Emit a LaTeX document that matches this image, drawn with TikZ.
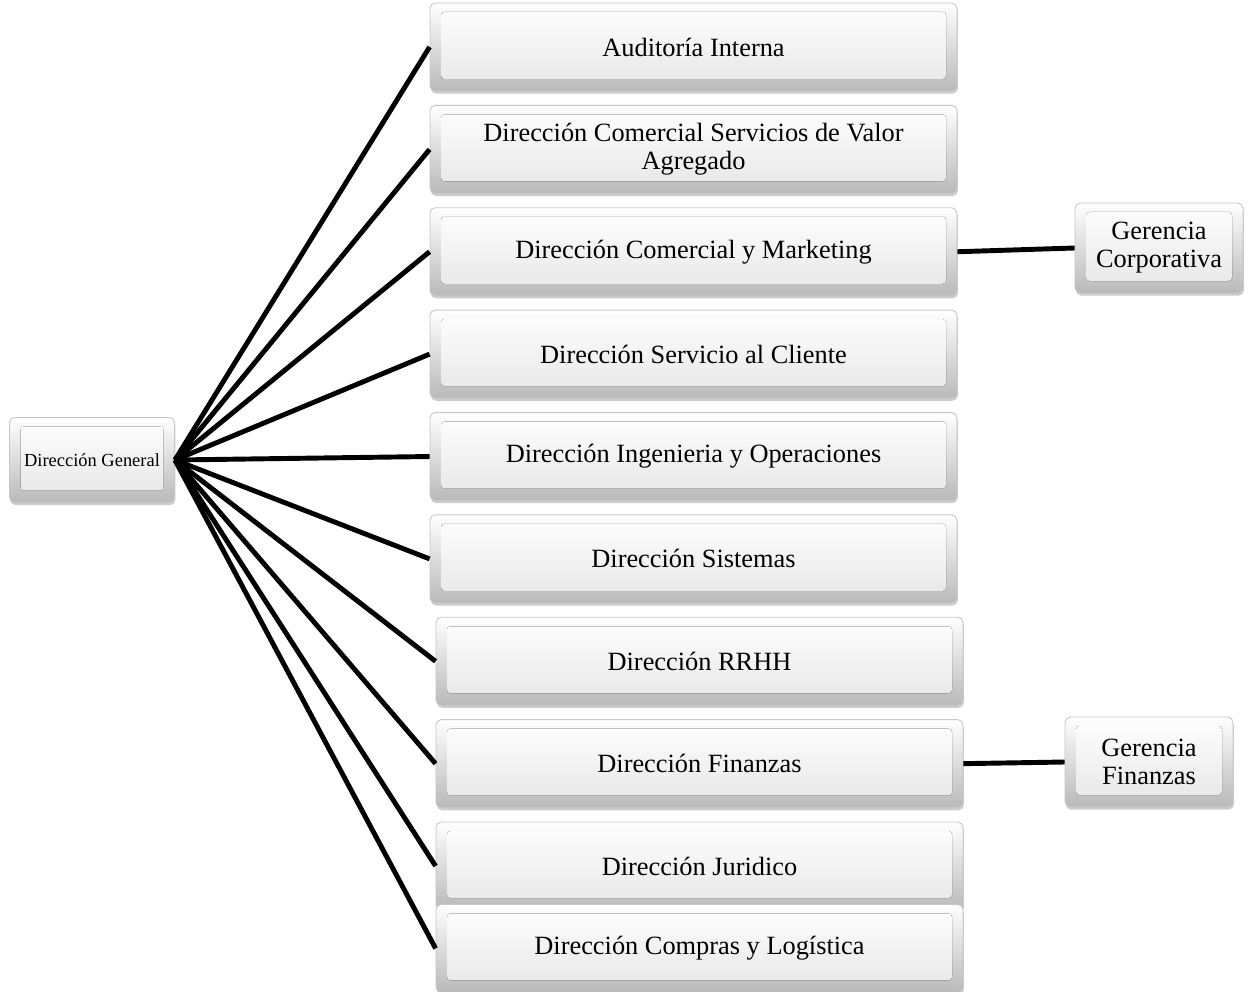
\documentclass[tikz,border=0pt]{standalone}
\usepackage{fontspec}
\setmainfont{Liberation Serif}
\usetikzlibrary{positioning,shadows}
\tikzset{
	every picture/.style={line width=2.8pt},
	node distance =0.27 cm and 1 cm,
}

\begin{document}
\begin{tikzpicture}[
	bevel/.style={draw=gray!45, line width=0.5pt, rounded corners=3pt,
		top color=white, bottom color=gray!55, align=center,
		drop shadow={shadow xshift=0.5pt, shadow yshift=-1.5pt, opacity=0.4},
		path picture={\fill[top color=white, bottom color=gray!20, rounded corners=2pt]
			([shift={(0.22,-0.18)}]path picture bounding box.north west) rectangle
			([shift={(-0.22,0.24)}]path picture bounding box.south east);}},
	state/.style={bevel, minimum width=10.54cm, minimum height=1.76cm, font=\fontsize{15}{16}\selectfont},
	stateg/.style={bevel, minimum width=3.36cm, minimum height=1.8cm, font=\fontsize{15}{16}\selectfont},
	stated/.style={bevel, minimum width=3.3cm, minimum height=1.7cm, font=\fontsize{10.5}{12}\selectfont},
	]
	\useasboundingbox (0,0) rectangle (24.98,-19.84);

	%general
	\node[stated] (0) at (1.84,-9.2) {Dirección General};
	%direcciones
	\node[state] (1) at (13.87,-0.94) {Auditoría Interna};
	\node[state] (2) [below = of 1] {Dirección Comercial Servicios de Valor\\Agregado};
	\node[state] (3) [below = of 2] {Dirección Comercial y Marketing};
	\node[state] (4) [below = of 3] {Dirección Servicio al Cliente};
	\node[state] (5) [below = of 4] {Dirección Ingenieria y Operaciones};
	\node[state] (6) [below = of 5] {Dirección Sistemas};
	\node[state] (7) [below = of 6, xshift = 0.12cm] {Dirección RRHH};
	\node[state] (8) [below = of 7] {Dirección Finanzas};
	\node[state] (9) [below = of 8] {Dirección Juridico};
	\node[state] (10) [below = of 9, yshift = 0.4cm] {Dirección Compras y Logística};
	%gerencias
	\node[stateg] (11) at (23.18,-4.96) {Gerencia\\Corporativa};
	\node[stateg] (12) at (22.98,-15.24) {Gerencia\\Finanzas};

	%straight paths
	\foreach \i in {1,...,10}
		\path (0.east) edge[] (\i.west);
	\path (3.east) edge[] (11.west);
	\path (8.east) edge[] (12.west);

\end{tikzpicture}
\end{document}
